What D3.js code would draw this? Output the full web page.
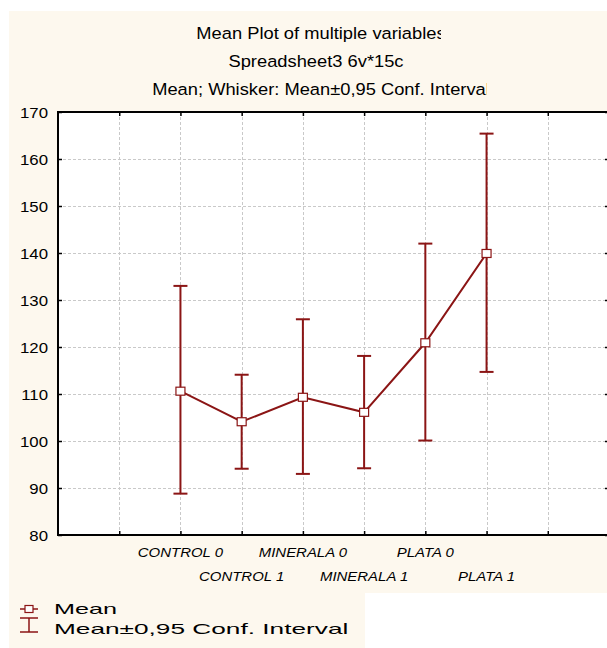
<!DOCTYPE html>
<html>
<head>
<meta charset="utf-8">
<script src="https://cdn.jsdelivr.net/npm/d3@7"></script>
<style>
  html, body { margin: 0; padding: 0; background: #ffffff; }
  svg { display: block; font-family: "Liberation Sans", Arial, sans-serif; }
</style>
</head>
<body>
<svg id="chart" width="607" height="648"></svg>
<script>
// Group means with 95% confidence limits
const categories = ["CONTROL 0", "CONTROL 1", "MINERALA 0", "MINERALA 1", "PLATA 0", "PLATA 1"];
const means      = [110.6, 104.1, 109.3, 106.1, 120.9, 139.9];
const lowerCI    = [88.8, 94.1, 93.0, 94.2, 100.1, 114.7];
const upperCI    = [133.0, 114.1, 125.9, 118.1, 142.0, 165.4];
const yTicks     = [80, 90, 100, 110, 120, 130, 140, 150, 160, 170];
const titleLines = ["Mean Plot of multiple variables", "Spreadsheet3 6v*15c", "Mean; Whisker: Mean\u00b10,95 Conf. Interval"];
const legendLabels = ["Mean", "Mean\u00b10,95 Conf. Interval"];

const svg = d3.select("#chart");
const cream = "#fdf8ee";
const red = "#8b1515";

// Panel backgrounds
svg.append("rect").attr("x", 9).attr("y", 11).attr("width", 598).attr("height", 582).attr("fill", cream);
svg.append("rect").attr("x", 9).attr("y", 593).attr("width", 356).attr("height", 55).attr("fill", cream);

const plot = { left: 58, right: 609, top: 112, bottom: 535 };

// Slot positions: categories sit on slots 2..7, slots 0 and 9 are the frame edges
const x = d3.scaleLinear().domain([0, 9]).range([plot.left, plot.right]);
const y = d3.scaleLinear().domain([80, 170]).range([plot.bottom, plot.top]);
const slots = d3.range(1, 9);
const slotOf = i => i + 2;

svg.append("rect")
  .attr("x", plot.left).attr("y", plot.top)
  .attr("width", plot.right - plot.left).attr("height", plot.bottom - plot.top)
  .attr("fill", "#ffffff");

// Grid
const grid = svg.append("g").attr("stroke", "#c9c9c9").attr("stroke-width", 1).attr("stroke-dasharray", "3,2");
grid.selectAll("line.h").data(yTicks.slice(1, -1)).join("line")
  .attr("x1", plot.left).attr("x2", plot.right)
  .attr("y1", d => Math.round(y(d)) + 0.5).attr("y2", d => Math.round(y(d)) + 0.5);
grid.selectAll("line.v").data(slots).join("line")
  .attr("y1", plot.top).attr("y2", plot.bottom)
  .attr("x1", d => Math.round(x(d)) + 0.5).attr("x2", d => Math.round(x(d)) + 0.5);

// Axes with inward ticks
const axL = d3.axisLeft(y).tickValues(yTicks).tickSize(-4).tickFormat("");
const axR = d3.axisRight(y).tickValues(yTicks).tickSize(-4).tickFormat("");
const axB = d3.axisBottom(x).tickValues(slots).tickSize(-4).tickFormat("");
const axT = d3.axisTop(x).tickValues(slots).tickSize(-4).tickFormat("");
function styleAxis(g) {
  g.select(".domain").remove();
  g.selectAll(".tick line").attr("stroke", "#000").attr("stroke-width", 1.5);
}
svg.append("g").attr("transform", `translate(${plot.left},0)`).call(axL).call(styleAxis);
svg.append("g").attr("transform", `translate(${plot.right},0)`).call(axR).call(styleAxis);
svg.append("g").attr("transform", `translate(0,${plot.bottom})`).call(axB).call(styleAxis);
svg.append("g").attr("transform", `translate(0,${plot.top})`).call(axT).call(styleAxis);

svg.append("rect")
  .attr("x", plot.left).attr("y", plot.top)
  .attr("width", plot.right - plot.left).attr("height", plot.bottom - plot.top)
  .attr("fill", "none").attr("stroke", "#000").attr("stroke-width", 2);

// Horizontally stretched text helper
function label(parent, str, px, py, opts) {
  const g = parent.append("g").attr("transform", `translate(${px},${py}) scale(${opts.sx || 1},1)`);
  const t = g.append("text").text(str)
    .attr("font-size", opts.size)
    .attr("text-anchor", opts.anchor || "start")
    .attr("fill", "#000");
  if (opts.italic) t.attr("font-style", "italic");
  if (opts.clip) g.attr("clip-path", opts.clip);
  return t;
}

// Y tick labels
yTicks.forEach(v => label(svg, v, 48, y(v) + 5.5, { size: 15, sx: 1.12, anchor: "end" }));

// Category labels in two staggered rows
categories.forEach((c, i) => {
  const row = i % 2;
  label(svg, c, x(slotOf(i)), row === 0 ? 557 : 581, { size: 13, sx: 1.15, anchor: "middle", italic: true });
});

// Titles, clipped at the title box edges
const defs = svg.append("defs");
const titleCx = [321, 316, 321];
const clipRights = [441, 700, 487];
const titleY = [39, 67, 95];
const tsx = 1.11;
titleLines.forEach((s, i) => {
  const id = "tclip" + i;
  defs.append("clipPath").attr("id", id).attr("clipPathUnits", "userSpaceOnUse")
    .append("rect").attr("x", -1000).attr("y", -40)
    .attr("width", 1000 + (clipRights[i] - titleCx[i]) / tsx).attr("height", 60);
  label(svg, s, titleCx[i], titleY[i], { size: 16.5, sx: tsx, anchor: "middle", clip: `url(#${id})` });
});

// Mean line
const pts = means.map((m, i) => [x(slotOf(i)), y(m)]);
svg.append("path")
  .attr("d", d3.line()(pts))
  .attr("fill", "none").attr("stroke", red).attr("stroke-width", 2);

// Whiskers
const wh = svg.append("g").attr("stroke", red).attr("stroke-width", 2);
categories.forEach((c, i) => {
  const cx = x(slotOf(i));
  wh.append("line").attr("x1", cx).attr("x2", cx).attr("y1", y(lowerCI[i])).attr("y2", y(upperCI[i]));
  [lowerCI[i], upperCI[i]].forEach(v =>
    wh.append("line").attr("x1", cx - 7).attr("x2", cx + 7).attr("y1", y(v)).attr("y2", y(v)));
});

// Mean markers
svg.selectAll("rect.mk").data(means).join("rect")
  .attr("x", (d, i) => x(slotOf(i)) - 4.5)
  .attr("y", d => y(d) - 4)
  .attr("width", 9).attr("height", 8)
  .attr("fill", "#fff").attr("stroke", red).attr("stroke-width", 1.2);

// Legend
const lg = svg.append("g");
lg.append("line").attr("x1", 20).attr("x2", 38).attr("y1", 609).attr("y2", 609).attr("stroke", red).attr("stroke-width", 1.5);
lg.append("rect").attr("x", 25).attr("y", 605.5).attr("width", 8).attr("height", 7)
  .attr("fill", "#fff").attr("stroke", red).attr("stroke-width", 1.2);
lg.append("line").attr("x1", 29).attr("x2", 29).attr("y1", 618).attr("y2", 632).attr("stroke", red).attr("stroke-width", 1.5);
lg.append("line").attr("x1", 20).attr("x2", 38).attr("y1", 618).attr("y2", 618).attr("stroke", red).attr("stroke-width", 1.5);
lg.append("line").attr("x1", 20).attr("x2", 38).attr("y1", 632).attr("y2", 632).attr("stroke", red).attr("stroke-width", 1.5);
label(lg, legendLabels[0], 54, 614, { size: 15, sx: 1.68 });
label(lg, legendLabels[1], 54, 634, { size: 15, sx: 1.75 });
</script>
</body>
</html>
